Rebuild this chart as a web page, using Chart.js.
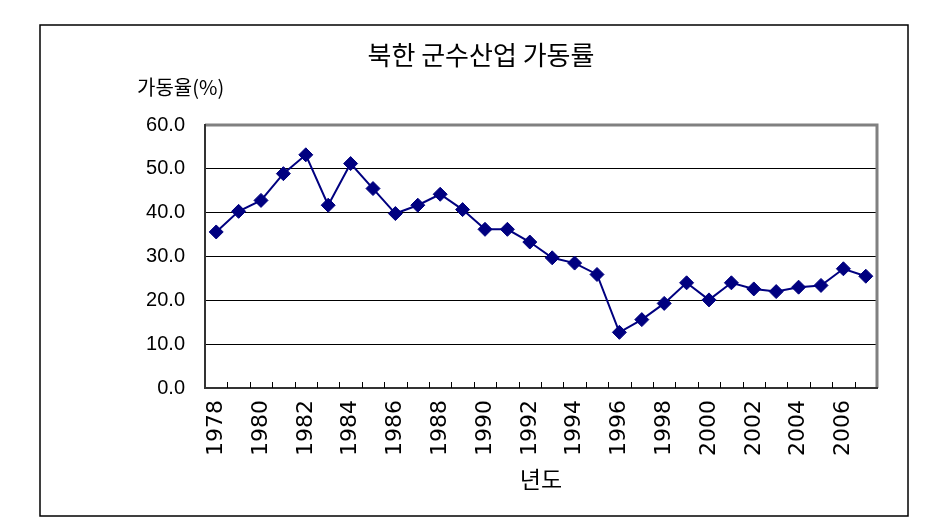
<!DOCTYPE html>
<html>
<head>
<meta charset="utf-8">
<script src="https://cdn.jsdelivr.net/npm/chart.js@4/dist/chart.umd.min.js"></script>
<style>
  body { margin: 0; background: #fff; }
  canvas { display: block; }
</style>
</head>
<body>
<canvas id="chart" width="931" height="525"></canvas>
<script>
const years = [
  "1978", "1979", "1980", "1981", "1982", "1983", "1984", "1985", "1986", "1987",
  "1988", "1989", "1990", "1991", "1992", "1993", "1994", "1995", "1996", "1997",
  "1998", "1999", "2000", "2001", "2002", "2003", "2004", "2005", "2006", "2007"
];
const rate = [
  35.6, 40.3, 42.8, 48.9, 53.2, 41.7, 51.2, 45.5, 39.8, 41.7,
  44.2, 40.7, 36.2, 36.2, 33.3, 29.7, 28.5, 25.9, 12.7, 15.6,
  19.3, 24.0, 20.1, 24.0, 22.6, 22.0, 23.0, 23.4, 27.2, 25.5
];
const yTicks = [0, 10, 20, 30, 40, 50, 60];

const chartTitle = "북한 군수산업 가동률";
const yLabel = "가동율(%)";
const xLabel = "년도";

const korean = "'Noto Sans CJK KR', 'DejaVu Sans', sans-serif";

// frame, title and y label drawn straight on the canvas
const decor = {
  id: "decor",
  beforeDraw(chart) {
    const ctx = chart.ctx;
    ctx.save();
    ctx.fillStyle = "#fff";
    ctx.fillRect(0, 0, chart.width, chart.height);
    ctx.strokeStyle = "#000";
    ctx.lineWidth = 1.5;
    ctx.strokeRect(40, 25, 868, 491);
    ctx.fillStyle = "#000";
    ctx.textBaseline = "middle";
    ctx.font = "26px " + korean;
    ctx.textAlign = "center";
    ctx.fillText(chartTitle, 481, 55);
    ctx.font = "20px " + korean;
    ctx.textAlign = "left";
    ctx.fillText(yLabel, 137, 87);
    ctx.restore();
  },
  beforeDatasetsDraw(chart) {
    const { ctx, chartArea: a } = chart;
    const x = chart.scales.x;
    ctx.save();
    // plot border: grey top/right, dark left/bottom
    ctx.strokeStyle = "#808080";
    ctx.lineWidth = 3;
    ctx.beginPath();
    ctx.moveTo(a.left, a.top);
    ctx.lineTo(a.right, a.top);
    ctx.lineTo(a.right, a.bottom);
    ctx.stroke();
    ctx.strokeStyle = "#333";
    ctx.lineWidth = 2;
    ctx.beginPath();
    ctx.moveTo(a.left, a.top - 1);
    ctx.lineTo(a.left, a.bottom);
    ctx.lineTo(a.right + 1, a.bottom);
    ctx.stroke();
    // inward tick marks between categories
    const half = (x.getPixelForValue(1) - x.getPixelForValue(0)) / 2;
    ctx.strokeStyle = "#000";
    ctx.lineWidth = 1;
    ctx.beginPath();
    for (let i = 1; i < years.length; i++) {
      const px = Math.round(x.getPixelForValue(i) - half) + 0.5;
      ctx.moveTo(px, a.bottom);
      ctx.lineTo(px, a.bottom - 6);
    }
    ctx.stroke();
    ctx.restore();
  }
};

new Chart(document.getElementById("chart"), {
  type: "line",
  data: {
    labels: years,
    datasets: [
      {
        data: rate,
        borderColor: "#000080",
        borderWidth: 2,
        backgroundColor: "#000080",
        pointStyle: "rectRot",
        pointRadius: 7,
        pointBackgroundColor: "#000080",
        pointBorderColor: "#000080",
        pointBorderWidth: 1,
        tension: 0,
      },
    ],
  },
  options: {
    responsive: false,
    animation: false,
    layout: { padding: { top: 125, right: 54, bottom: 0, left: 0 } },
    plugins: {
      legend: { display: false },
      tooltip: { enabled: false },
    },
    scales: {
      x: {
        offset: true,
        grid: { display: false, drawTicks: false },
        border: { display: false },
        afterFit: (scale) => { scale.height = 137; },
        ticks: {
          autoSkip: false,
          minRotation: 90,
          maxRotation: 90,
          padding: 12,
          color: "#000",
          font: { family: "'DejaVu Sans', sans-serif", size: 22 },
          callback: (v, i) => (i % 2 === 0 ? years[i] : ""),
        },
        title: {
          display: true,
          text: xLabel,
          color: "#000",
          font: { family: korean, size: 23 },
          padding: { top: 0, bottom: 32 },
        },
      },
      y: {
        min: 0,
        max: 60,
        afterFit: (scale) => { scale.width = 205; },
        afterBuildTicks: (scale) => { scale.ticks = yTicks.map((v) => ({ value: v })); },
        grid: { color: "#000", lineWidth: 1, drawTicks: false },
        border: { display: false },
        ticks: {
          padding: 20,
          color: "#000",
          font: { family: "'Liberation Sans', sans-serif", size: 20 },
          callback: (v) => v.toFixed(1),
        },
      },
    },
  },
  plugins: [decor],
});
</script>
</body>
</html>
